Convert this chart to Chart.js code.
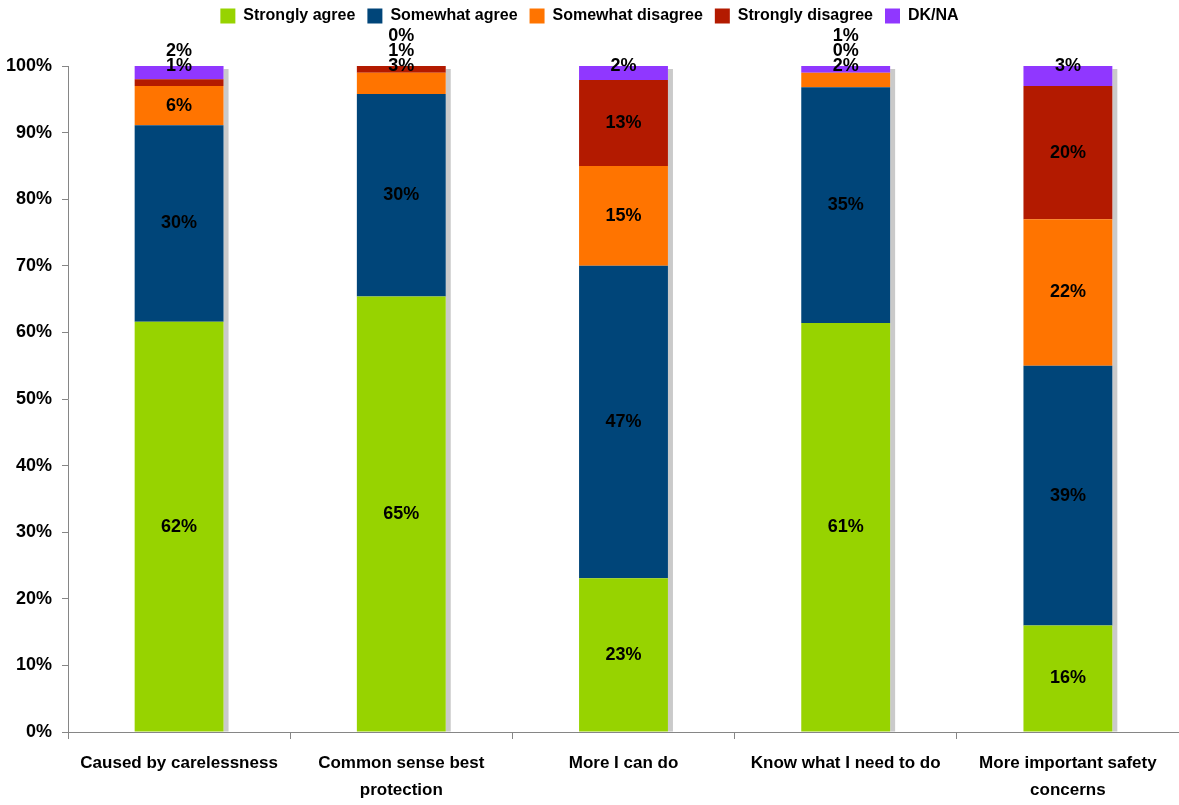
<!DOCTYPE html>
<html>
<head>
<meta charset="utf-8">
<script src="https://cdn.jsdelivr.net/npm/chart.js@4.4.1/dist/chart.umd.min.js"></script>
<style>
  html, body { margin: 0; padding: 0; background: #fff; }
  #wrap { width: 1179px; height: 805px; position: relative; }
</style>
</head>
<body>
<div id="wrap"><canvas id="survey"></canvas></div>
<script>
// Categories and answer shares (percent of respondents)
const categories = [
  "Caused by carelessness",
  ["Common sense best", "protection"],
  "More I can do",
  "Know what I need to do",
  ["More important safety", "concerns"]
];
const stronglyAgree    = [61.6, 65.4, 23.1, 61.4, 16.0];
const somewhatAgree    = [29.5, 30.4, 46.9, 35.4, 39.0];
const somewhatDisagree = [5.9, 3.2, 15.0, 2.2, 22.0];
const stronglyDisagree = [1.0, 1.0, 12.9, 0.0, 20.0];
const dkNa             = [2.0, 0.0, 2.1, 1.0, 3.0];
const yTicks = [0, 10, 20, 30, 40, 50, 60, 70, 80, 90, 100];

const FONT = "'Liberation Sans', Arial, sans-serif";
const AXIS_GRAY = "#868686";

Chart.defaults.font.family = FONT;
Chart.defaults.font.weight = "bold";
Chart.defaults.font.size = 18;
Chart.defaults.color = "#000";

// legend box gets a fixed height so the plot starts where it should
const legendSpacer = {
  id: "legendSpacer",
  beforeInit(chart) {
    const fit = chart.legend.fit;
    chart.legend.fit = function () {
      fit.call(this);
      this.height = 70;
    };
  }
};

// light gray drop shadow on the right side of every column
const barShadow = {
  id: "barShadow",
  beforeDatasetsDraw(chart) {
    const ctx = chart.ctx;
    ctx.save();
    ctx.fillStyle = "#cacaca";
    categories.forEach((c, j) => {
      let top = chart.chartArea.bottom, right = 0, base = 0;
      chart.data.datasets.forEach((ds, i) => {
        const el = chart.getDatasetMeta(i).data[j];
        top = Math.min(top, el.y);
        right = el.x + el.width / 2;
        base = Math.max(base, el.base);
      });
      ctx.fillRect(right, top + 3, 5, base - top - 3);
    });
    ctx.restore();
  }
};

// percentage labels; thin slices get stacked above the column
const segmentLabels = {
  id: "segmentLabels",
  afterDatasetsDraw(chart) {
    const ctx = chart.ctx;
    ctx.save();
    ctx.font = "bold 18px " + FONT;
    ctx.fillStyle = "#000";
    ctx.textAlign = "center";
    ctx.textBaseline = "middle";
    categories.forEach((c, j) => {
      let top = chart.chartArea.bottom;
      chart.data.datasets.forEach((ds, i) => {
        top = Math.min(top, chart.getDatasetMeta(i).data[j].y);
      });
      let stackY = top;
      chart.data.datasets.forEach((ds, i) => {
        const el = chart.getDatasetMeta(i).data[j];
        const v = ds.data[j];
        const text = Math.round(v) + "%";
        if (v < 4) {
          ctx.fillText(text, el.x, stackY);
          stackY -= 15;
        } else {
          ctx.fillText(text, el.x, (el.y + el.base) / 2);
        }
      });
    });
    ctx.restore();
  }
};

new Chart(document.getElementById("survey"), {
  type: "bar",
  data: {
    labels: categories,
    datasets: [
      { label: "Strongly agree", data: stronglyAgree, backgroundColor: "#97d300" },
      { label: "Somewhat agree", data: somewhatAgree, backgroundColor: "#004579" },
      { label: "Somewhat disagree", data: somewhatDisagree, backgroundColor: "#ff7400" },
      { label: "Strongly disagree", data: stronglyDisagree, backgroundColor: "#b31a00" },
      { label: "DK/NA", data: dkNa, backgroundColor: "#9037ff" }
    ]
  },
  options: {
    responsive: true,
    maintainAspectRatio: false,
    animation: false,
    datasets: {
      bar: { barPercentage: 0.4, categoryPercentage: 1.0, borderWidth: 0 }
    },
    layout: { padding: { top: -4, left: 0, right: 0, bottom: 0 } },
    plugins: {
      tooltip: { enabled: false },
      legend: {
        position: "top",
        labels: {
          boxWidth: 15,
          boxHeight: 15,
          padding: 12,
          color: "#000",
          font: { size: 16, weight: "bold" }
        }
      }
    },
    scales: {
      x: {
        stacked: true,
        border: { display: true, color: AXIS_GRAY, width: 1 },
        grid: { drawOnChartArea: false, tickLength: 7, color: AXIS_GRAY },
        ticks: { padding: 11, maxRotation: 0, autoSkip: false, font: { size: 17, weight: "bold", lineHeight: 1.6 } },
        afterFit(scale) { scale.height = 73; }
      },
      y: {
        stacked: true,
        min: 0,
        max: 100,
        border: { display: true, color: AXIS_GRAY, width: 1 },
        grid: { drawOnChartArea: false, tickLength: 6, color: AXIS_GRAY },
        afterBuildTicks(scale) { scale.ticks = yTicks.map(v => ({ value: v })); },
        ticks: { padding: 10, callback: v => v + "%" },
        afterFit(scale) { scale.width = 68; }
      }
    }
  },
  plugins: [legendSpacer, barShadow, segmentLabels]
});
</script>
</body>
</html>
